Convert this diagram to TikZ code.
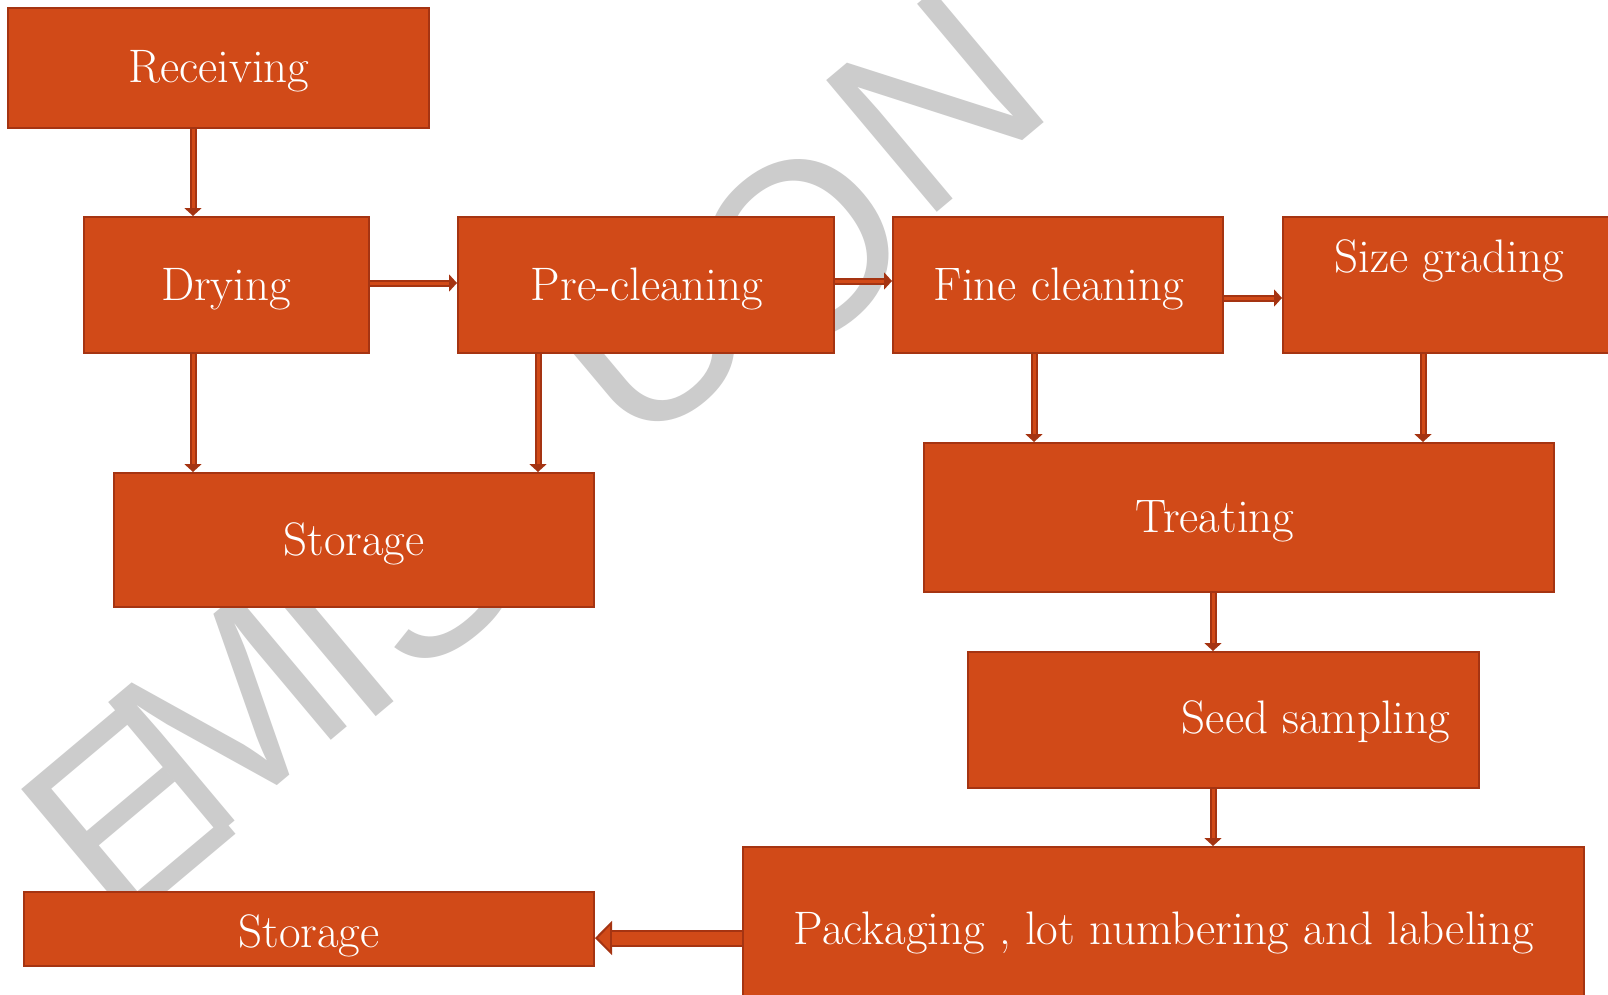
\documentclass[tikz,border=0pt]{standalone}
\usepackage{fontspec}
\setmainfont{Latin Modern Roman}
\newfontfamily\wmfont{Liberation Sans}
\usetikzlibrary{arrows.meta}
\definecolor{boxfill}{RGB}{209,74,24}
\definecolor{boxedge}{RGB}{165,52,18}
\definecolor{wmgray}{RGB}{204,204,204}
\begin{document}
\begin{tikzpicture}[x=1pt,y=-1pt,
  stage/.style={draw=boxedge, line width=2pt, fill=boxfill, inner sep=0pt},
  lbl/.style={text=white, font=\fontsize{47}{54}\selectfont, anchor=base, inner sep=0pt},
  wm/.style={text=wmgray, font=\wmfont\fontsize{250}{250}\selectfont, rotate=40, inner sep=0pt},
  thinarr/.style={draw=boxedge, line width=7pt, -{Triangle[length=8pt,width=17pt]},
    postaction={draw=boxfill, line width=3pt, -, shorten >=8pt}},
  widearr/.style={draw=boxedge, line width=17pt,
    -{Triangle[length=17pt,width=34pt,fill=boxfill,line width=2pt]},
    postaction={draw=boxfill, line width=13pt, -, shorten >=17pt}}]
\useasboundingbox (0,0) rectangle (1608,994);
\fill[white] (0,0) rectangle (1608,994);

% background watermark letters
\node[wm] (wm1) at (125,815) {E};
\node[wm] (wm2) at (228,715) {M};
\node[wm] (wm3) at (330,643) {I};
\node[wm] (wm4) at (421,567) {S};
\node[wm] (wm5) at (650,335) {U};
\node[wm] (wm6) at (800,250) {O};
\node[wm] (wm7) at (935,102) {N};

% process stages
\node[stage, minimum width=421pt, minimum height=120pt] (rec)   at (218.5,68)   {};
\node[stage, minimum width=285pt, minimum height=136pt] (dry)   at (226.5,285)  {};
\node[stage, minimum width=376pt, minimum height=136pt] (pre)   at (646,285)    {};
\node[stage, minimum width=330pt, minimum height=136pt] (fine)  at (1058,285)   {};
\node[stage, minimum width=329pt, minimum height=136pt] (size)  at (1447.5,285) {};
\node[stage, minimum width=480pt, minimum height=134pt] (sto1)  at (354,540)    {};
\node[stage, minimum width=630pt, minimum height=149pt] (treat) at (1239,517.5) {};
\node[stage, minimum width=511pt, minimum height=136pt] (seed)  at (1223.5,720) {};
\node[stage, minimum width=841pt, minimum height=153pt] (pack)  at (1163.5,923.5) {};
\node[stage, minimum width=570pt, minimum height=74pt]  (sto2)  at (309,929)    {};

% stage labels
\node[lbl] (trec)   at (219,82)    {Receiving};
\node[lbl] (tdry)   at (226,300)   {Drying};
\node[lbl] (tpre)   at (647,300)   {Pre-cleaning};
\node[lbl] (tfine)  at (1059,300)  {Fine cleaning};
\node[lbl] (tsize)  at (1449,272)  {Size grading};
\node[lbl] (tsto1)  at (354,555)   {Storage};
\node[lbl] (ttreat) at (1215,532)  {Treating};
\node[lbl] (tseed)  at (1316,733)  {Seed sampling};
\node[lbl] (tpack)  at (1164,944)  {Packaging , lot numbering and labeling};
\node[lbl] (tsto2)  at (309,947)   {Storage};

% flow connectors
\draw[thinarr] ([xshift=-25.5pt]rec.south) -- ([xshift=-33.5pt]dry.north);
\draw[thinarr] ([xshift=-33.5pt]dry.south) -- ([xshift=-161pt]sto1.north);
\draw[thinarr] ([xshift=-108pt]pre.south) -- ([xshift=184pt]sto1.north);
\draw[thinarr] ([yshift=2pt]dry.east) -- ([yshift=2pt]pre.west);
\draw[thinarr] ([yshift=4pt]pre.east) -- ([yshift=4pt]fine.west);
\draw[thinarr] ([yshift=-13pt]fine.east) -- ([yshift=-13pt]size.west);
\draw[thinarr] ([xshift=-24pt]fine.south) -- ([xshift=-205pt]treat.north);
\draw[thinarr] ([xshift=-24.5pt]size.south) -- ([xshift=184pt]treat.north);
\draw[thinarr] ([xshift=-26pt]treat.south) -- ([xshift=-10.5pt]seed.north);
\draw[thinarr] ([xshift=-10.5pt]seed.south) -- ([xshift=49.5pt]pack.north);
\draw[widearr] ([yshift=-14.5pt]pack.west) -- ([yshift=-9pt]sto2.east);
\end{tikzpicture}
\end{document}
